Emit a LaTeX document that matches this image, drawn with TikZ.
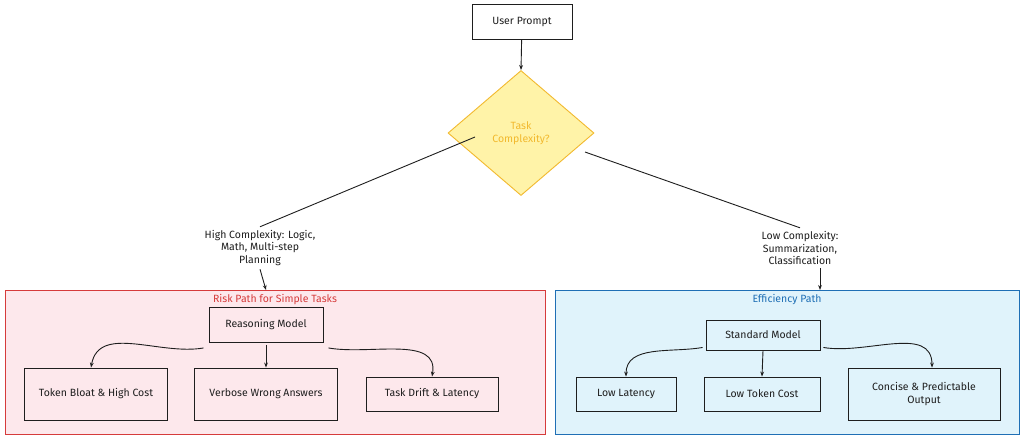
\documentclass[tikz,border=0pt]{standalone}
\usepackage{fontspec}
\setmainfont{Fira Sans}
\usetikzlibrary{shapes.geometric,arrows.meta}
\definecolor{redfill}{HTML}{FDE8EC}
\definecolor{redline}{HTML}{D63B3B}
\definecolor{bluefill}{HTML}{E0F3FB}
\definecolor{blueline}{HTML}{1F6FB5}
\definecolor{yfill}{HTML}{FFF3A8}
\definecolor{yline}{HTML}{F2B92E}
\definecolor{ink}{HTML}{1E1E1E}
\begin{document}
\begin{tikzpicture}[x=1pt,y=-1pt,font=\fontsize{10.5}{12.5}\selectfont,
  box/.style={draw=ink,line width=0.9pt,minimum width=#1,align=center,text=ink},
  arr/.style={-{Stealth[length=5pt]},draw=ink,line width=0.9pt},
  lbl/.style={align=center,text=ink},
  group/.style={line width=1pt}]
\useasboundingbox (0,0) rectangle (1024,440);
\fill[white] (0,0) rectangle (1024,440);
\node[box=100pt,minimum height=35pt] (up) at (522,22) {User Prompt};
\node[diamond,draw=yline,fill=yfill,line width=0.9pt,minimum width=146pt,minimum height=125pt,inner sep=0pt,text=yline,align=center] (tc) at (521,133) {Task\\Complexity?};
\draw[arr] (up) -- (tc.north);
% groups
\draw[group,draw=redline,fill=redfill] (5,290) rectangle (545,434);
\node[text=redline] (rt) at (275,300) {Risk Path for Simple Tasks};
\draw[group,draw=blueline,fill=bluefill] (555,290) rectangle (1019,434);
\node[text=blueline] (bt) at (787,300) {Efficiency Path};
% labels
\node[lbl] (hl) at (260,248) {High Complexity: Logic,\\Math, Multi-step\\Planning};
\node[lbl] (ll) at (800,248) {Low Complexity:\\Summarization,\\Classification};
\coordinate (hs) at (475,137);
\coordinate (ls) at (585,152);
\draw[ink,line width=0.9pt] (hs) -- (hl.north);
\draw[ink,line width=0.9pt] (ls) -- (ll.north);
\coordinate (rm) at (266,290);
\coordinate (sm) at (820,290);
\coordinate (lb) at (820,268);
\draw[arr] (hl.south) -- (rm);
\draw[arr] (lb) -- (sm);
% left nodes
\node[box=114pt,minimum height=35pt] (rmn) at (266,325) {Reasoning Model};
\node[box=143pt,minimum height=52pt] (t1) at (96,394) {Token Bloat \& High Cost};
\node[box=143pt,minimum height=52pt] (t2) at (266,394) {Verbose Wrong Answers};
\node[box=132pt,minimum height=34pt] (t3) at (432,394) {Task Drift \& Latency};
\draw[arr] (rmn.south west) ++(-5,5) coordinate (a1) to[out=190,in=80] ([xshift=-5pt]t1.north) ;
\draw[arr] (rmn.south) ++(0,2) -- (t2.north);
\draw[arr] (rmn.south east) ++(5,5) coordinate (a3) to[out=-10,in=80] (t3.north);
% right nodes
\node[box=114pt,minimum height=30pt] (smn) at (763,335) {Standard Model};
\node[box=100pt,minimum height=34pt] (s1) at (626,394) {Low Latency};
\node[box=116pt,minimum height=34pt] (s2) at (762,394) {Low Token Cost};
\node[box=152pt,minimum height=52pt] (s3) at (924,394) {Concise \& Predictable\\Output};
\draw[arr] (smn.south west) ++(-3,-3) to[out=190,in=90] (s1.north);
\draw[arr] (smn.south) -- (s2.north);
\draw[arr] (smn.south east) ++(3,-3) to[out=-10,in=90] ([xshift=8pt]s3.north);
\end{tikzpicture}
\end{document}
